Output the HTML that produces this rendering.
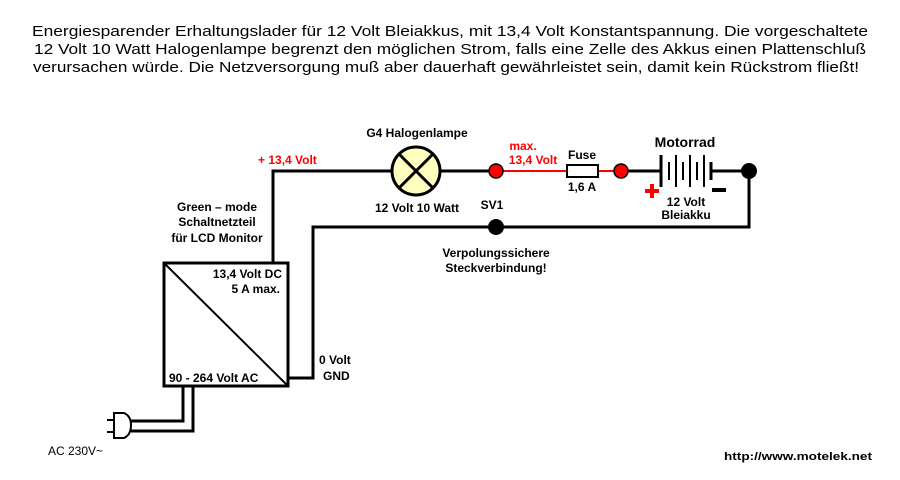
<!DOCTYPE html>
<html><head><meta charset="utf-8"><style>html,body{margin:0;padding:0;background:#fff}svg{display:block}</style></head>
<body>
<svg width="900" height="480" viewBox="0 0 900 480" xmlns="http://www.w3.org/2000/svg" font-family="Liberation Sans, Arial, sans-serif">
<rect width="900" height="480" fill="#fff"/>
<g font-size="15" fill="#000">
<text x="450" y="36" text-anchor="middle" textLength="836" lengthAdjust="spacingAndGlyphs">Energiesparender Erhaltungslader für 12 Volt Bleiakkus, mit 13,4 Volt Konstantspannung. Die vorgeschaltete</text>
<text x="450" y="54" text-anchor="middle" textLength="832" lengthAdjust="spacingAndGlyphs">12 Volt 10 Watt Halogenlampe begrenzt den möglichen Strom, falls eine Zelle des Akkus einen Plattenschluß</text>
<text x="446" y="72" text-anchor="middle" textLength="826" lengthAdjust="spacingAndGlyphs">verursachen würde. Die Netzversorgung muß aber dauerhaft gewährleistet sein, damit kein Rückstrom fließt!</text>
</g>
<g stroke="#000" stroke-width="3" fill="none">
<polyline points="273,263 273,171 392,171"/>
<line x1="440" y1="171" x2="496" y2="171"/>
<line x1="621" y1="171" x2="660" y2="171"/>
<line x1="712" y1="171" x2="749" y2="171"/>
<polyline points="749,171 749,227 313,227 313,378 288,378"/>
<polyline points="183,386 183,421 131,421"/>
<polyline points="193,386 193,431 131,431"/>
</g>
<line x1="496" y1="171" x2="621" y2="171" stroke="#f00" stroke-width="2"/>
<rect x="567" y="165" width="31" height="12" fill="#fff" stroke="#000" stroke-width="2"/>
<rect x="164" y="263" width="124" height="123" fill="#fff" stroke="#000" stroke-width="3"/>
<line x1="164" y1="263" x2="288" y2="386" stroke="#000" stroke-width="2"/>
<circle cx="416" cy="171" r="24" fill="#ffffc0" stroke="#000" stroke-width="3"/>
<line x1="399" y1="154" x2="433" y2="188" stroke="#000" stroke-width="3"/>
<line x1="433" y1="154" x2="399" y2="188" stroke="#000" stroke-width="3"/>
<circle cx="496" cy="171" r="7" fill="#f00" stroke="#000" stroke-width="1.5"/>
<circle cx="621" cy="171" r="7" fill="#f00" stroke="#000" stroke-width="1.5"/>
<circle cx="749" cy="171" r="8" fill="#000"/>
<circle cx="496" cy="227" r="8" fill="#000"/>
<g stroke="#000" stroke-width="2">
<line x1="661" y1="155" x2="661" y2="187" stroke-width="3"/>
<line x1="669" y1="162" x2="669" y2="180"/>
<line x1="676" y1="155" x2="676" y2="187"/>
<line x1="683" y1="162" x2="683" y2="180"/>
<line x1="690" y1="155" x2="690" y2="187"/>
<line x1="697" y1="162" x2="697" y2="180"/>
<line x1="704" y1="155" x2="704" y2="187"/>
<line x1="711" y1="162" x2="711" y2="180" stroke-width="3"/>
</g>
<rect x="645" y="189" width="14" height="4" fill="#f00"/>
<rect x="650" y="184" width="4" height="14" fill="#f00"/>
<rect x="712" y="188" width="14" height="4" fill="#000"/>
<path d="M114,413 L124,413 Q131,416 131,425 Q131,435 124,438 L114,438 Z" fill="#fff" stroke="#000" stroke-width="2"/>
<line x1="107" y1="420" x2="114" y2="420" stroke="#000" stroke-width="2"/>
<line x1="107" y1="432" x2="114" y2="432" stroke="#000" stroke-width="2"/>
<g font-size="12" font-weight="bold" fill="#000">
<text x="417" y="137" text-anchor="middle">G4 Halogenlampe</text>
<text x="417" y="212" text-anchor="middle">12 Volt 10 Watt</text>
<text x="217" y="211" text-anchor="middle">Green – mode</text>
<text x="217" y="226" text-anchor="middle">Schaltnetzteil</text>
<text x="217" y="242" text-anchor="middle">für LCD Monitor</text>
<text x="582" y="159" text-anchor="middle">Fuse</text>
<text x="582" y="191" text-anchor="middle">1,6 A</text>
<text x="685" y="147" text-anchor="middle" font-size="14">Motorrad</text>
<text x="686" y="206" text-anchor="middle">12 Volt</text>
<text x="686" y="219" text-anchor="middle">Bleiakku</text>
<text x="492" y="209" text-anchor="middle">SV1</text>
<text x="496" y="257" text-anchor="middle">Verpolungssichere</text>
<text x="496" y="272" text-anchor="middle">Steckverbindung!</text>
<text x="282" y="278" text-anchor="end">13,4 Volt DC</text>
<text x="280" y="293" text-anchor="end">5 A max.</text>
<text x="169" y="382">90 - 264 Volt AC</text>
<text x="319" y="364">0 Volt</text>
<text x="323" y="380">GND</text>
<text x="724" y="460" font-size="11" textLength="148" lengthAdjust="spacingAndGlyphs">http://www.motelek.net</text>
</g>
<text x="48" y="455" font-size="12" fill="#000">AC 230V~</text>
<g font-size="12" font-weight="bold" fill="#f00">
<text x="258" y="164">+ 13,4 Volt</text>
<text x="523" y="150" text-anchor="middle">max.</text>
<text x="533" y="164" text-anchor="middle">13,4 Volt</text>
</g>
</svg>
</body></html>
